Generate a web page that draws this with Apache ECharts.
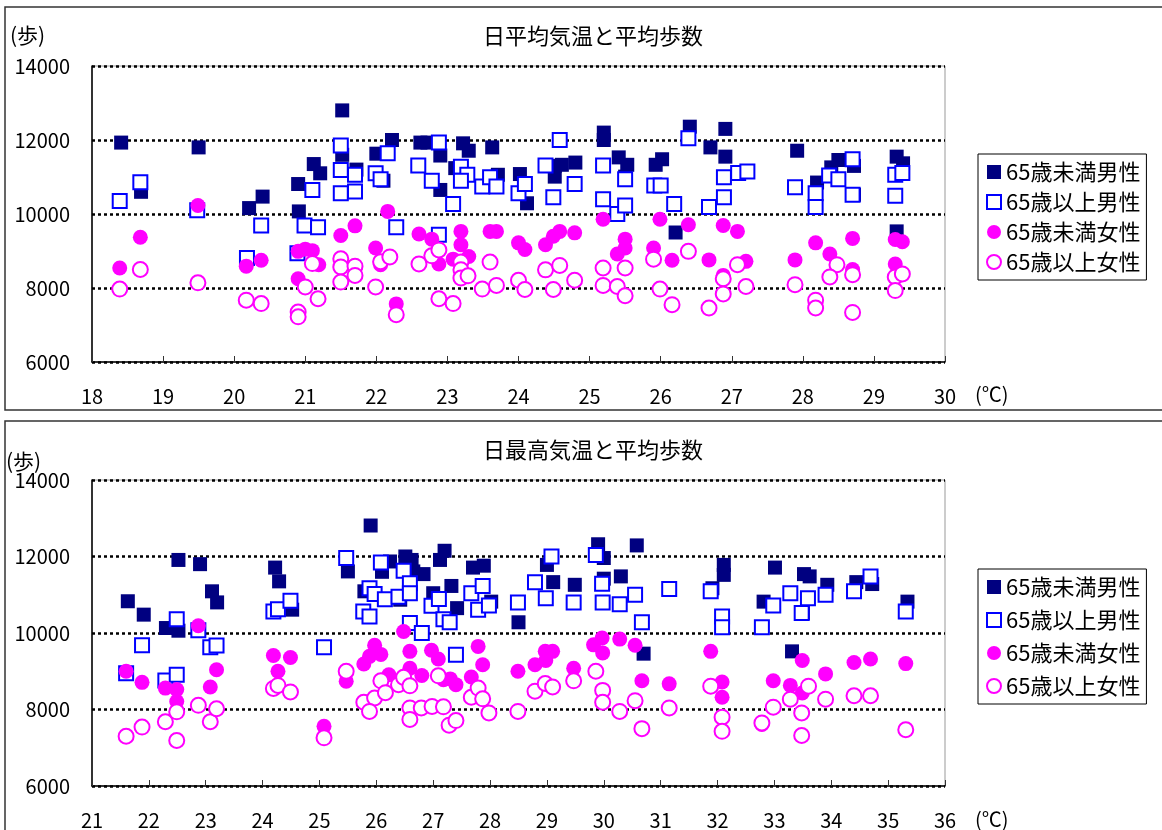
<!DOCTYPE html>
<html>
<head>
<meta charset="utf-8">
<title>気温と平均歩数</title>
<script src="https://cdn.jsdelivr.net/npm/echarts@6/dist/echarts.min.js"></script>
<style>
  html,body{margin:0;padding:0;background:#fff;}
  #main{width:1162px;height:830px;}
</style>
</head>
<body>
<div id="main"></div>
<script>
// 系列名
var seriesNames=["65歳未満男性","65歳以上男性","65歳未満女性","65歳以上女性"];
var titleAvg="日平均気温と平均歩数";
var titleMax="日最高気温と平均歩数";

// 日平均気温 [気温, 歩数]
var avgMaleU65=[
  [18.41,11930],[19.50,11800],[18.69,10600],[21.52,12800],[21.12,11350],[21.21,11100],[20.90,10810],
  [20.40,10470],[20.21,10160],[20.91,10070],[21.52,11600],[21.72,11200],[22.00,11630],[22.10,10900],
  [22.22,12000],[22.62,11930],[22.72,11930],[22.90,11580],[23.22,11910],[23.30,11710],[23.11,11240],
  [23.63,11800],[23.71,11060],[22.90,10650],[24.02,11080],[24.12,10290],[24.51,11300],[24.51,11010],
  [24.61,11330],[24.80,11390],[25.20,12200],[25.20,12000],[25.41,11530],[25.53,11330],[25.50,11010],
  [25.93,11330],[26.02,11480],[26.41,12360],[26.91,12300],[26.70,11800],[26.91,11550],[26.21,9500],
  [27.92,11710],[28.20,10850],[28.40,11260],[28.50,11460],[28.72,11300],[28.72,10520],[29.32,11550],
  [29.41,11370],[29.32,9530]
];
var avgMaleO65=[
  [18.39,10350],[18.68,10860],[19.48,10100],[20.38,9690],[20.18,8810],[20.89,8940],[20.99,9690],
  [21.18,9640],[21.10,10650],[21.50,11850],[21.50,11190],[21.70,11060],[21.70,10610],[21.50,10560],
  [21.99,11100],[22.06,10940],[22.16,11640],[22.28,9640],[22.88,11930],[22.59,11310],[22.78,10900],
  [22.88,9440],[23.08,10270],[23.19,11280],[23.28,11060],[23.19,10900],[23.49,10740],[23.60,10990],
  [23.69,10740],[24.00,10560],[24.09,10810],[24.58,12000],[24.38,11310],[24.49,10450],[24.79,10810],
  [25.19,11310],[25.19,10400],[25.39,10000],[25.50,10230],[25.50,10940],[25.91,10770],[26.00,10770],
  [26.39,12050],[26.89,10990],[27.09,11110],[27.22,11150],[26.19,10270],[26.68,10190],[26.89,10450],
  [27.89,10720],[28.18,10560],[28.18,10190],[28.37,11040],[28.50,10940],[28.70,11480],[28.70,10520],
  [29.30,11060],[29.40,11110],[29.30,10490]
];
var avgFemaleU65=[
  [18.39,8540],[18.68,9370],[19.49,10230],[20.17,8590],[20.38,8750],[20.90,8990],[21.00,9050],
  [21.10,9010],[21.19,8630],[20.90,8250],[21.50,9420],[21.70,9680],[21.99,9080],[22.06,8630],
  [22.16,10070],[22.28,7570],[22.60,9460],[22.78,9320],[22.88,8650],[23.08,8780],[23.19,9530],
  [23.19,9170],[23.30,8850],[23.60,9530],[23.69,9530],[24.00,9220],[24.09,9040],[24.38,9170],
  [24.49,9400],[24.58,9530],[24.79,9490],[25.19,9860],[25.50,9320],[25.39,8920],[25.50,9080],
  [25.90,9080],[25.99,9860],[26.16,8750],[26.39,9710],[26.88,9690],[27.08,9530],[26.68,8760],
  [26.88,8340],[27.20,8720],[27.89,8760],[28.18,9220],[28.38,8920],[28.70,9340],[28.70,8500],
  [29.30,9310],[29.40,9250],[29.30,8650]
];
var avgFemaleO65=[
  [18.39,7970],[18.68,8500],[19.49,8140],[20.17,7670],[20.38,7580],[20.90,7350],[20.90,7220],
  [21.00,8030],[21.10,8660],[21.18,7710],[21.50,8790],[21.50,8570],[21.50,8160],[21.70,8590],
  [21.70,8340],[21.99,8030],[22.06,8710],[22.19,8840],[22.28,7280],[22.60,8650],[22.78,8870],
  [22.88,9030],[22.88,7710],[23.08,7580],[23.19,8700],[23.19,8490],[23.19,8270],[23.29,8330],
  [23.49,7970],[23.60,8700],[23.69,8070],[24.00,8210],[24.09,7960],[24.38,8490],[24.58,8610],
  [24.49,7960],[24.79,8210],[25.19,8540],[25.19,8070],[25.39,8040],[25.50,8540],[25.50,7790],
  [25.90,8780],[25.99,7970],[26.16,7550],[26.39,8990],[27.08,8630],[26.88,8250],[26.88,7840],
  [27.20,8040],[26.68,7460],[27.89,8090],[28.18,7670],[28.18,7460],[28.48,8630],[28.38,8300],
  [28.70,8360],[28.70,7340],[29.30,8300],[29.40,8380],[29.30,7930]
];

// 日最高気温 [気温, 歩数]
var maxMaleU65=[
  [21.63,10830],[21.91,10480],[22.52,11910],[22.90,11800],[23.11,11090],[23.20,10800],[22.30,10130],
  [22.52,10060],[24.22,11710],[24.29,11350],[24.52,10610],[25.50,11610],[25.90,12810],[25.79,11090],
  [26.10,11600],[26.24,11870],[26.51,12000],[26.62,11910],[26.65,11610],[26.83,11540],[27.20,12150],
  [27.12,11910],[26.42,10870],[27.00,11040],[27.32,11230],[27.70,11710],[27.89,11760],[27.42,10650],
  [28.02,10820],[28.50,10280],[29.00,11780],[29.11,11330],[29.49,11260],[29.90,12320],[30.00,11960],
  [30.00,11420],[30.30,11480],[30.58,12290],[30.70,9460],[32.11,11780],[32.11,11520],[31.91,11170],
  [33.01,11710],[33.52,11540],[33.62,11480],[32.81,10820],[33.93,11260],[34.44,11330],[34.72,11280],
  [35.34,10820],[33.31,9520],[33.50,10520]
];
var maxMaleO65=[
  [21.60,8950],[21.88,9680],[22.49,10360],[22.87,10070],[22.29,8760],[22.49,8910],[23.08,9630],
  [23.19,9670],[24.19,10560],[24.27,10620],[24.49,10840],[25.08,9630],[25.47,11960],[25.88,11170],
  [25.97,11020],[25.77,10560],[25.88,10430],[26.08,11840],[26.15,10880],[26.39,10950],[26.48,11630],
  [26.59,11300],[26.59,11040],[26.59,10260],[26.80,10000],[26.97,10710],[27.10,10890],[27.18,10360],
  [27.29,10280],[27.40,9430],[27.67,11040],[27.87,11230],[27.79,10610],[27.98,10720],[28.49,10800],
  [28.79,11330],[28.98,10910],[29.08,12000],[29.47,10800],[29.86,12040],[29.97,11290],[29.98,10800],
  [30.28,10750],[30.55,11000],[30.67,10280],[31.15,11150],[31.88,11090],[32.08,10430],[32.08,10150],
  [32.78,10150],[32.98,10720],[33.28,11040],[33.59,10910],[33.48,10520],[33.90,11000],[34.40,11090],
  [34.69,11480],[35.31,10560]
];
var maxFemaleU65=[
  [21.60,9000],[21.88,8710],[22.87,10190],[22.29,8560],[22.49,8520],[22.49,8210],[23.19,9040],
  [23.08,8590],[24.19,9410],[24.49,9360],[24.27,9000],[25.08,7560],[25.47,8740],[25.78,9190],
  [25.88,9390],[25.97,9680],[26.08,9440],[26.48,10040],[26.59,9520],[26.59,9080],[26.22,8910],
  [26.39,8650],[26.80,8890],[26.97,9550],[27.09,9320],[27.18,8780],[27.30,8800],[27.40,8650],
  [27.67,8850],[27.79,9650],[27.87,9170],[28.49,9000],[28.79,9170],[28.98,9280],[29.10,9520],
  [28.97,9520],[29.47,9080],[29.82,9690],[29.97,9870],[29.98,9480],[30.28,9840],[30.55,9680],
  [30.67,8750],[31.15,8670],[31.88,9520],[32.08,8720],[32.08,8320],[32.78,7610],[32.98,8750],
  [33.28,8630],[33.49,9280],[33.49,8430],[33.60,8610],[33.90,8930],[34.40,9230],[34.69,9320],
  [35.31,9200]
];
var maxFemaleO65=[
  [21.60,7300],[21.88,7540],[22.29,7680],[22.49,7940],[22.49,7190],[22.87,8110],[23.08,7680],
  [23.19,8020],[24.19,8550],[24.27,8630],[24.49,8460],[25.08,7260],[25.47,9000],[25.78,8190],
  [25.97,8300],[25.88,7950],[26.08,8750],[26.16,8440],[26.39,8650],[26.48,8840],[26.59,8620],
  [26.59,8040],[26.59,7740],[26.79,8040],[26.98,8080],[27.18,8070],[27.09,8880],[27.28,7590],
  [27.40,7710],[27.67,8320],[27.79,8560],[27.87,8280],[27.98,7910],[28.49,7950],[28.79,8480],
  [28.97,8680],[29.10,8590],[29.47,8750],[29.86,9000],[29.98,8500],[29.98,8190],[30.28,7950],
  [30.55,8230],[30.67,7500],[31.15,8040],[31.88,8610],[32.08,7800],[32.08,7430],[32.78,7650],
  [32.98,8060],[33.28,8270],[33.48,7910],[33.48,7320],[33.60,8610],[33.90,8270],[34.40,8360],
  [34.69,8360],[35.31,7470]
];

// 軸の範囲
var avgTempRange=[18,30];
var maxTempRange=[21,36];
var stepRange=[6000,14000];

var font="'Noto Sans CJK JP', sans-serif";

// 系列のスタイル
var seriesStyle=[
  {symbol:"rect",   itemStyle:{color:"#000080",opacity:1}},
  {symbol:"rect",   itemStyle:{color:"#ffffff",borderColor:"#0000ff",borderWidth:2,opacity:1}},
  {symbol:"circle", itemStyle:{color:"#ff00ff",opacity:1}},
  {symbol:"circle", itemStyle:{color:"#ffffff",borderColor:"#ff00ff",borderWidth:2,opacity:1}}
];

function makeSeries(data, idx, gridIdx){
  var st=seriesStyle[idx];
  return {
    name:seriesNames[idx],
    type:"scatter",
    xAxisIndex:gridIdx,
    yAxisIndex:gridIdx,
    symbol:st.symbol,
    symbolSize:idx<2?14:15,
    itemStyle:st.itemStyle,
    data:data,
    z:2+idx
  };
}

function makeXAxis(range, gridIdx){
  return {
    type:"value",
    gridIndex:gridIdx,
    min:range[0],
    max:range[1],
    interval:1,
    axisLine:{show:true,lineStyle:{color:"#000",width:1.5}},
    axisTick:{show:true,inside:true,length:6,lineStyle:{color:"#333"}},
    axisLabel:{fontSize:20,color:"#000",fontFamily:font,margin:24},
    splitLine:{show:false}
  };
}

function makeYAxis(gridIdx){
  return {
    type:"value",
    gridIndex:gridIdx,
    min:stepRange[0],
    max:stepRange[1],
    interval:2000,
    axisLine:{show:true,lineStyle:{color:"#000",width:1.5}},
    axisTick:{show:false},
    axisLabel:{fontSize:20,color:"#000",fontFamily:font,margin:22,formatter:function(v){return String(v);}},
    splitLine:{show:true,lineStyle:{color:"#000",width:2.5,type:[3,3]}}
  };
}

function makeLegend(top, gap){
  return {
    data:seriesNames,
    orient:"vertical",
    left:978,
    top:top,
    itemWidth:14,
    itemHeight:14,
    itemGap:gap,
    padding:[7,6,7,8],
    borderColor:"#000",
    borderWidth:1,
    selectedMode:false,
    textStyle:{fontSize:22,color:"#000",fontFamily:font}
  };
}

function label(text, x, y, size){
  return {
    type:"text",
    left:x,
    top:y,
    style:{text:text,fill:"#000",font:size+"px "+font}
  };
}

var chart=echarts.init(document.getElementById("main"));
chart.setOption({
  animation:false,
  backgroundColor:"#fff",
  title:[
    {text:titleAvg,left:478,top:20,textStyle:{fontSize:22,fontWeight:"normal",color:"#000",fontFamily:font}},
    {text:titleMax,left:478,top:434,textStyle:{fontSize:22,fontWeight:"normal",color:"#000",fontFamily:font}}
  ],
  grid:[
    {left:92,top:66,width:853,height:296,show:true,borderColor:"#999",borderWidth:1},
    {left:92,top:480,width:853,height:306,show:true,borderColor:"#999",borderWidth:1}
  ],
  xAxis:[makeXAxis(avgTempRange,0),makeXAxis(maxTempRange,1)],
  yAxis:[makeYAxis(0),makeYAxis(1)],
  legend:[makeLegend(154,8),makeLegend(569,11)],
  graphic:[
    // パネル枠
    {type:"rect",shape:{x:5,y:7,width:1170,height:403},style:{fill:"none",stroke:"#333",lineWidth:1.5},silent:true},
    {type:"rect",shape:{x:5,y:421,width:1170,height:420},style:{fill:"none",stroke:"#333",lineWidth:1.5},silent:true},
    label("(歩)",10,25,21),
    label("(歩)",6,451,21),
    label("(℃)",975,384,20),
    label("(℃)",975,809,20)
  ],
  series:[
    makeSeries(avgMaleU65,0,0),
    makeSeries(avgMaleO65,1,0),
    makeSeries(avgFemaleU65,2,0),
    makeSeries(avgFemaleO65,3,0),
    makeSeries(maxMaleU65,0,1),
    makeSeries(maxMaleO65,1,1),
    makeSeries(maxFemaleU65,2,1),
    makeSeries(maxFemaleO65,3,1)
  ]
});
</script>
</body>
</html>
